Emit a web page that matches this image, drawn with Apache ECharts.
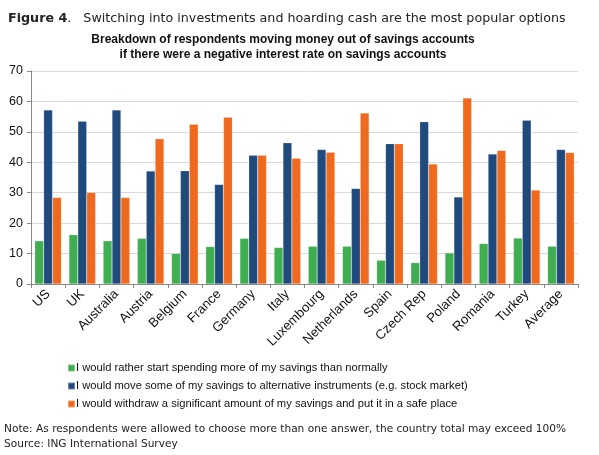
<!DOCTYPE html>
<html><head><meta charset="utf-8">
<script src="https://cdn.jsdelivr.net/npm/echarts@6/dist/echarts.min.js"></script>
<style>html,body{margin:0;padding:0;background:#fff}#c{width:599px;height:455px}</style>
</head><body><div id="c"></div>
<script>
const categories = ["US","UK","Australia","Austria","Belgium","France","Germany","Italy","Luxembourg","Netherlands","Spain","Czech Rep","Poland","Romania","Turkey","Average"];
const seriesNames = [
  "I would rather start spending more of my savings than normally",
  "I would move some of my savings to alternative instruments (e.g. stock market)",
  "I would withdraw a significant amount of my savings and put it in a safe place"
];
const spending = [14.2,16.2,14.2,15.0,10.0,12.3,15.0,12.0,12.4,12.4,7.8,7.0,10.2,13.3,15.1,12.4];
const alternative = [57.2,53.5,57.2,37.1,37.2,32.7,42.3,46.4,44.2,31.4,46.1,53.3,28.6,42.7,53.8,44.2];
const withdraw = [28.4,30.1,28.4,47.7,52.5,54.8,42.3,41.3,43.3,56.2,46.1,39.4,61.1,43.9,30.9,43.2];
const yTicks = {min:0, max:70, interval:10};
const colors = ["#3fae50","#1f4a7e","#ef6a1f"];
const subtitleLines = ["Breakdown of respondents moving money out of savings accounts",
                       "if there were a negative interest rate on savings accounts"];

const chart = echarts.init(document.getElementById('c'), null, {renderer:'canvas'});
const mk = (name, data, c) => ({name, type:'bar', data, barGap:'0%', barCategoryGap:'22%',
  itemStyle:{color:c, borderColor:'rgba(255,255,255,0.35)', borderWidth:0.5}});
chart.setOption({
  animation:false,
  color:colors,
  textStyle:{fontFamily:'Liberation Sans'},
  title:[
    {text:'{b|Figure 4}.   Switching into investments and hoarding cash are the most popular options', left:3, top:7,
     textStyle:{fontFamily:'DejaVu Sans', fontSize:12.7, fontWeight:'normal', color:'#222',
       rich:{b:{fontFamily:'DejaVu Sans', fontSize:12.7, fontWeight:'bold', color:'#222'}}}},
    {text:'Note: As respondents were allowed to choose more than one answer, the country total may exceed 100%\nSource: ING International Survey',
     left:-1, top:417, textStyle:{fontFamily:'DejaVu Sans', fontSize:10.6, fontWeight:'normal', color:'#222', lineHeight:15}}
  ],
  graphic:subtitleLines.map((t,i)=>({type:'text', x:283, y:34+i*14.5,
    style:{text:t, align:'center', verticalAlign:'top', fontFamily:'Liberation Sans', fontSize:12, fontWeight:'bold', fill:'#111'}})),
  legend:{orient:'vertical', left:62, top:357, itemWidth:7, itemHeight:7, itemGap:6, icon:'rect',
    textStyle:{fontFamily:'Liberation Sans', fontSize:11.2, color:'#111', padding:[0,0,0,-4], lineHeight:12},
    data:seriesNames},
  grid:{left:31, right:21, top:71, bottom:171},
  xAxis:{type:'category', data:categories,
    axisLine:{lineStyle:{color:'#888'}},
    axisTick:{show:true, length:4, lineStyle:{color:'#888'}},
    axisLabel:{rotate:45, interval:0, fontFamily:'Liberation Sans', fontSize:13.2, color:'#111', margin:8}},
  yAxis:{type:'value', min:yTicks.min, max:yTicks.max, interval:yTicks.interval,
    axisLine:{show:true, lineStyle:{color:'#888'}},
    axisTick:{show:true, length:4, lineStyle:{color:'#888'}},
    splitLine:{lineStyle:{color:'#d9d9d9'}},
    axisLabel:{fontFamily:'Liberation Sans', fontSize:12.5, color:'#111', margin:8}},
  series:[mk(seriesNames[0], spending, colors[0]), mk(seriesNames[1], alternative, colors[1]), mk(seriesNames[2], withdraw, colors[2])]
});
</script></body></html>
